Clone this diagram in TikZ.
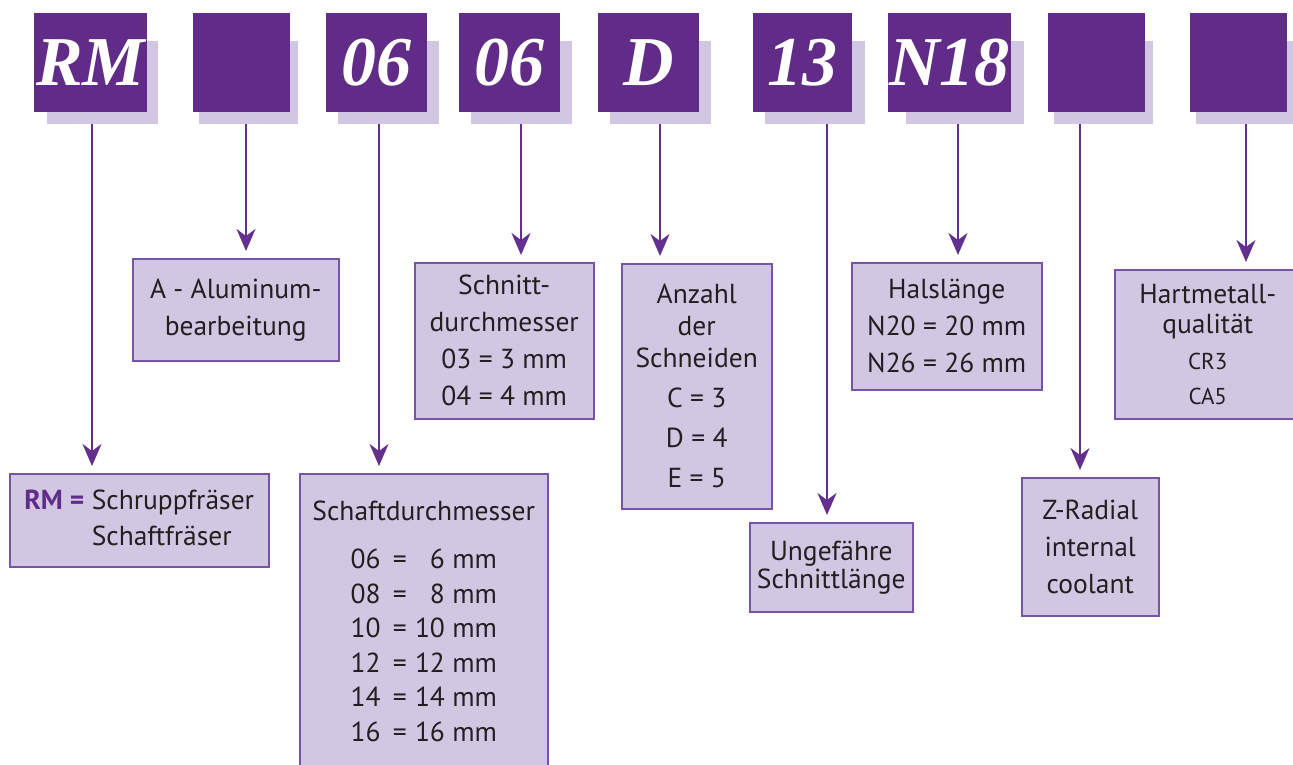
\documentclass[tikz,border=0pt]{standalone}
\usepackage{fontspec}
\setmainfont{PT Sans}
\newfontfamily\codefont{Liberation Serif}
\usetikzlibrary{arrows.meta,positioning,backgrounds}
\definecolor{vioDark}{RGB}{96,44,136}
\definecolor{vioLine}{RGB}{100,48,144}
\definecolor{vioEdge}{RGB}{122,84,164}
\definecolor{vioPale}{RGB}{210,199,226}
\definecolor{inkGrey}{RGB}{35,31,32}

\begin{document}
\begin{tikzpicture}[x=1pt,y=-1pt]
  \tikzset{
    codebox/.style={rectangle,fill=vioDark,text=white,minimum height=99pt,inner sep=0pt,anchor=north west,font=\codefont\bfseries\itshape\fontsize{70}{70}\selectfont},
    backdrop/.style={fill=vioPale},
    infobox/.style={rectangle,draw=vioEdge,line width=1.5pt,fill=vioPale,text=inkGrey,inner sep=0pt,anchor=north west,align=center,font=\fontsize{27.5}{37}\selectfont},
    feed/.style={draw=vioLine,line width=2pt,-{Stealth[length=22pt,width=19pt,inset=7pt]},shorten >=7pt}
  }
  \useasboundingbox (0,0) rectangle (1293,765);

  % code letters on top
  \foreach \n/\x/\w/\t in {c1/34/113/RM,c2/193/97/{},c3/326/101/06,c4/459/101/06,c5/598/101/D,
                           c6/753/99/13,c7/888/123/N18,c8/1048/97/{},c9/1190/97/{}}
    \node[codebox,minimum width=\w pt] (\n) at (\x,13) {\raisebox{-4pt}{\t}};
  \begin{scope}[on background layer]
    \foreach \n/\a/\b in {c1/13/11,c2/6/8,c3/12/12,c4/12/12,c5/12/12,c6/12/13,c7/18/13,c8/6/8,c9/6/8}
      \fill[backdrop] ([xshift=\a pt,yshift=-28pt]\n.north west) rectangle ([xshift=\b pt,yshift=-12pt]\n.south east);
  \end{scope}

  % explanation boxes
  \node[infobox,minimum width=259pt,minimum height=93pt] (i1) at (9,473)
    {\begin{tabular}{@{}l@{\ }l@{}}\textcolor{vioDark}{\bfseries RM =} & Schruppfräser\\[-1pt] & Schaftfräser\end{tabular}};
  \node[infobox,minimum width=206pt,minimum height=102pt] (i2) at (132,258) {A - Aluminum-\\bearbeitung};
  \node[infobox,minimum width=248pt,minimum height=295pt,font=\fontsize{27.5}{34.5}\selectfont] (i3) at (299,473)
    {Schaftdurchmesser\\[14pt]
     06\hspace{0.45em}=\hspace{0.3em}\phantom{0}6 mm\\
     08\hspace{0.45em}=\hspace{0.3em}\phantom{0}8 mm\\
     10\hspace{0.45em}=\hspace{0.3em}10 mm\\
     12\hspace{0.45em}=\hspace{0.3em}12 mm\\
     14\hspace{0.45em}=\hspace{0.3em}14 mm\\
     16\hspace{0.45em}=\hspace{0.3em}16 mm};
  \node[infobox,minimum width=179pt,minimum height=156pt] (i4) at (414,262) {Schnitt-\\durchmesser\\03 = 3 mm\\04 = 4 mm};
  \node[infobox,minimum width=150pt,minimum height=245pt] (i5) at (621,263)
    {Anzahl\\[-5pt]der\\[-5pt]Schneiden\\[3pt]C = 3\\[3pt]D = 4\\[3pt]E = 5};
  \node[infobox,minimum width=163pt,minimum height=89pt] (i6) at (749,522) {Ungefähre\\[-9pt]Schnittlänge};
  \node[infobox,minimum width=190pt,minimum height=127pt] (i7) at (851,262) {Halslänge\\N20 = 20 mm\\N26 = 26 mm};
  \node[infobox,minimum width=137pt,minimum height=138pt] (i8) at (1021,477) {Z-Radial\\internal\\coolant};
  \node[infobox,minimum width=186pt,minimum height=149pt] (i9) at (1114,269)
    {Hartmetall-\\[-7pt]qualität\\[-1pt]{\fontsize{23}{35}\selectfont CR3}\\[-2pt]{\fontsize{23}{35}\selectfont CA5}};

  % arrows down
  \foreach \n/\x/\m in {c1/92/i1,c2/246/i2,c3/379/i3,c4/521/i4,c5/660/i5,c6/827/i6,c7/958/i7,c8/1080/i8,c9/1246/i9}{
    \coordinate (x\n) at (\x,124);
    \draw[feed] (x\n) -- (\m.north -| x\n);
  }
\end{tikzpicture}
\end{document}
